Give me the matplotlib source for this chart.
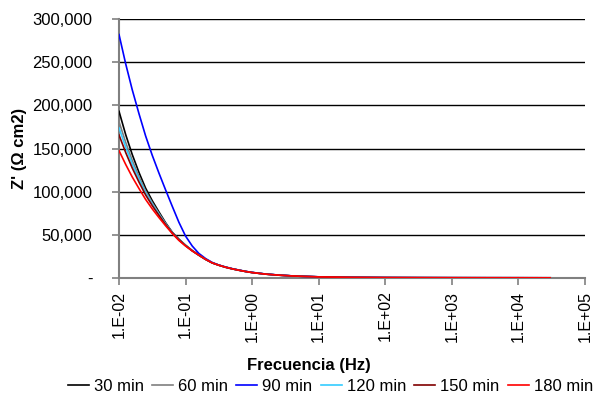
import matplotlib
matplotlib.use("Agg")
import matplotlib.pyplot as plt
from matplotlib.ticker import FixedLocator, FuncFormatter

plt.rcParams['font.family'] = ['Liberation Sans', 'DejaVu Sans']

# Frequency (Hz)
freq = [0.01, 0.0126, 0.0158, 0.02, 0.0251, 0.0316, 0.0398, 0.0501, 0.0631, 0.0794,
        0.1, 0.126, 0.158, 0.2, 0.251, 0.316, 0.398, 0.501, 0.631, 0.794,
        1.0, 1.58, 2.51, 3.98, 6.31, 10.0, 31.6, 100.0, 316.0, 1000.0,
        3160.0, 10000.0, 30000.0]

# Z' (ohm cm2) for each immersion time
z_30 = [193000, 166000, 143000, 122000, 104000, 89500, 76500, 64000, 53000, 45000,
        38000, 31700, 26500, 21600, 17600, 14900, 12600, 10700, 9100, 7600,
        6400, 4550, 3330, 2420, 1820, 1320, 710, 455, 362, 302,
        272, 252, 222]
z_60 = [181000, 157000, 136200, 117200, 100600, 87000, 74800, 63100, 52600, 44600,
        37700, 31600, 26500, 21600, 17550, 14850, 12550, 10650, 9050, 7580,
        6350, 4520, 3310, 2410, 1810, 1310, 705, 452, 361, 301,
        271, 251, 221]
z_90 = [282000, 248000, 218000, 190000, 164500, 142000, 121500, 102000, 83000, 64500,
        48500, 37000, 28500, 22500, 18000, 15000, 12700, 10800, 9200, 7700,
        6500, 4650, 3400, 2480, 1870, 1360, 730, 465, 368, 306,
        275, 255, 225]
z_120 = [174000, 151500, 132100, 114200, 98500, 85500, 73800, 62500, 52400, 44400,
         37600, 31500, 26500, 21600, 17500, 14800, 12500, 10600, 9000, 7550,
         6300, 4500, 3300, 2400, 1800, 1300, 700, 450, 360, 300,
         270, 250, 220]
z_150 = [165600, 145300, 127400, 110900, 96200, 83800, 72600, 61900, 52100, 44100,
         37400, 31500, 26500, 21500, 17450, 14750, 12450, 10580, 8980, 7530,
         6280, 4490, 3290, 2390, 1790, 1295, 698, 448, 358, 298,
         268, 248, 218]
z_180 = [147500, 131500, 117000, 103500, 91000, 80000, 70000, 60500, 51500, 43500,
         37000, 31300, 26500, 21600, 17500, 14800, 12500, 10600, 9000, 7550,
         6300, 4500, 3300, 2400, 1800, 1300, 700, 450, 360, 300,
         270, 250, 220]

series = [
    ("30 min", z_30, "#000000"),
    ("60 min", z_60, "#7f7f7f"),
    ("90 min", z_90, "#0000ff"),
    ("120 min", z_120, "#33ccff"),
    ("150 min", z_150, "#800000"),
    ("180 min", z_180, "#ff0000"),
]

x_ticks = [1e-2, 1e-1, 1e0, 1e1, 1e2, 1e3, 1e4, 1e5]
x_tick_labels = ["1.E-02", "1.E-01", "1.E+00", "1.E+01", "1.E+02", "1.E+03", "1.E+04", "1.E+05"]
y_ticks = [0, 50000, 100000, 150000, 200000, 250000, 300000]

fig = plt.figure(figsize=(5.96, 4.0), dpi=100)
ax = fig.add_axes([0.1997, 0.305, 0.7818, 0.6475])

for yv in y_ticks[1:]:
    ax.axhline(yv, color="black", lw=1.0, zorder=1)

for label, vals, color in series:
    ax.plot(freq, vals, color=color, lw=1.2, label=label, zorder=3)

ax.set_xscale("log")
ax.set_xlim(1e-2, 1e5)
ax.set_ylim(0, 300000)
ax.xaxis.set_major_locator(FixedLocator(x_ticks))
ax.xaxis.set_minor_locator(FixedLocator([]))
ax.set_xticklabels(x_tick_labels, rotation=90, fontsize=11.5)
ax.set_yticks(y_ticks)
ax.yaxis.set_major_formatter(FuncFormatter(lambda v, p: "-" if v == 0 else f"{int(v):,}"))
ax.tick_params(axis="y", labelsize=12, length=5, color="#808080", width=1.2, pad=14)
ax.tick_params(axis="x", length=5, color="#808080", width=1.2, pad=4)

for side in ("top", "right"):
    ax.spines[side].set_visible(False)
for side in ("left", "bottom"):
    ax.spines[side].set_color("#808080")
    ax.spines[side].set_linewidth(1.5)

ax.set_xlabel("Frecuencia (Hz)", fontsize=12, fontweight="bold")
ax.xaxis.set_label_coords(0.407, -0.31)
ax.set_ylabel("Z' (Ω cm2)", fontsize=12, fontweight="bold")
ax.yaxis.set_label_coords(-0.197, 0.5)

fig.legend(loc="center", bbox_to_anchor=(0.5545, 0.033), ncol=6, frameon=False,
           fontsize=12, handlelength=1.25, handletextpad=0.3, columnspacing=0.5,
           borderaxespad=0)

fig.savefig("out.png", dpi=100)
